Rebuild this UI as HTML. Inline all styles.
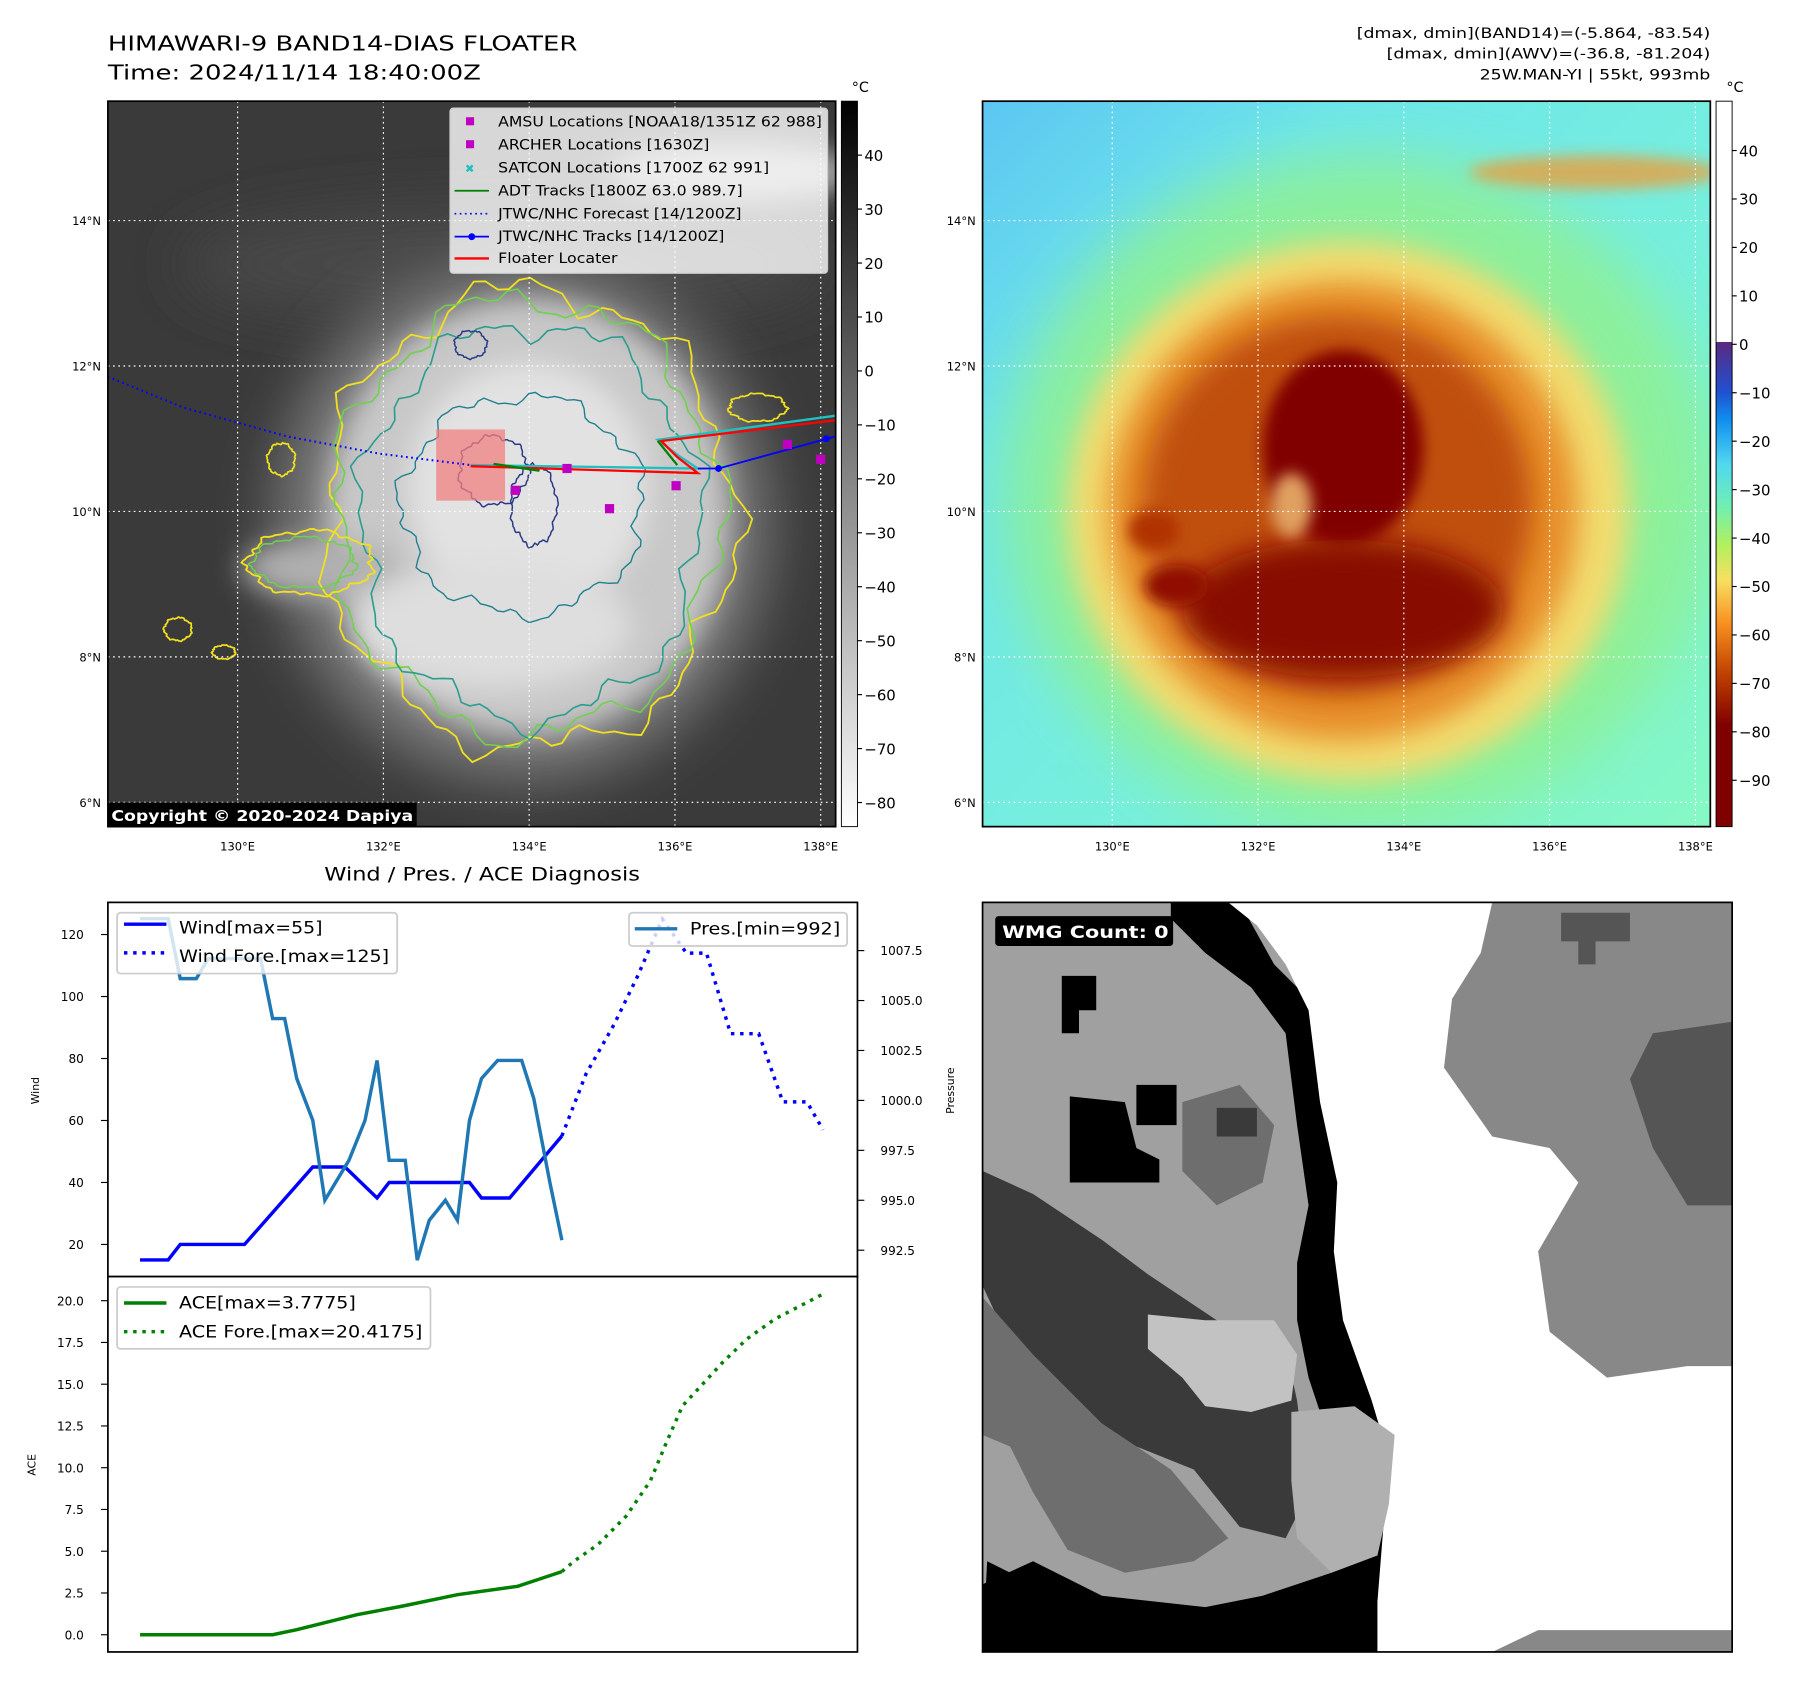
<!DOCTYPE html>
<html><head><meta charset="utf-8">
<style>
html,body{margin:0;padding:0;background:#fff;}
svg{display:block;font-family:"DejaVu Sans","Liberation Sans",sans-serif;}
</style></head>
<body>
<svg id="fig" width="1801" height="1690" viewBox="0 0 1569 1472" xmlns="http://www.w3.org/2000/svg">
<defs>
  <filter id="b6" x="-50%" y="-50%" width="200%" height="200%"><feGaussianBlur stdDeviation="6"/></filter>
  <filter id="b12" x="-50%" y="-50%" width="200%" height="200%"><feGaussianBlur stdDeviation="12"/></filter>
  <filter id="b25" x="-50%" y="-50%" width="200%" height="200%"><feGaussianBlur stdDeviation="25"/></filter>
  <clipPath id="clipL"><rect x="94" y="88" width="634" height="632"/></clipPath>
  <clipPath id="clipR"><rect x="856" y="88" width="634" height="632"/></clipPath>
  <clipPath id="clipW"><rect x="856" y="786" width="653" height="653"/></clipPath>
  <linearGradient id="grayBar" x1="0" y1="0" x2="0" y2="1">
    <stop offset="0" stop-color="#000"/><stop offset="1" stop-color="#fff"/>
  </linearGradient>
  <linearGradient id="jetBar" x1="0" y1="0" x2="0" y2="1">
    <stop offset="0" stop-color="#fff"/>
    <stop offset="0.3317" stop-color="#fff"/>
    <stop offset="0.3318" stop-color="#5a2a80"/>
    <stop offset="0.40" stop-color="#2050d0"/>
    <stop offset="0.44" stop-color="#1090f0"/>
    <stop offset="0.50" stop-color="#50d8f0"/>
    <stop offset="0.56" stop-color="#70f0b0"/>
    <stop offset="0.61" stop-color="#b0f060"/>
    <stop offset="0.66" stop-color="#f8e060"/>
    <stop offset="0.72" stop-color="#f89020"/>
    <stop offset="0.79" stop-color="#c04000"/>
    <stop offset="0.86" stop-color="#800000"/>
    <stop offset="1" stop-color="#800000"/>
  </linearGradient>
  <linearGradient id="rbg" x1="0" y1="0" x2="1" y2="1">
    <stop offset="0" stop-color="#5cc6f2"/><stop offset="0.25" stop-color="#6ee6ea"/><stop offset="0.7" stop-color="#7af2d8"/><stop offset="1" stop-color="#86f8c4"/>
  </linearGradient>
</defs>

<!-- titles -->
<text x="94" y="44" font-size="18" textLength="409" lengthAdjust="spacingAndGlyphs">HIMAWARI-9 BAND14-DIAS FLOATER</text>
<text x="94" y="69" font-size="18" textLength="325" lengthAdjust="spacingAndGlyphs">Time: 2024/11/14 18:40:00Z</text>
<g font-size="12.5" text-anchor="end">
  <text x="1490" y="33" textLength="308" lengthAdjust="spacingAndGlyphs">[dmax, dmin](BAND14)=(-5.864, -83.54)</text>
  <text x="1490" y="51" textLength="282" lengthAdjust="spacingAndGlyphs">[dmax, dmin](AWV)=(-36.8, -81.204)</text>
  <text x="1490" y="69" textLength="201" lengthAdjust="spacingAndGlyphs">25W.MAN-YI | 55kt, 993mb</text>
</g>

<!-- LEFT MAP -->
<g clip-path="url(#clipL)">
  <rect x="94" y="88" width="634" height="632" fill="#3a3a3a"/>
  <ellipse cx="440" cy="230" rx="280" ry="50" fill="#4a4a4a" filter="url(#b25)"/>
  <ellipse cx="640" cy="150" rx="110" ry="25" fill="#aaa" filter="url(#b12)"/>
  <ellipse cx="455" cy="455" rx="215" ry="225" fill="#7a7a7a" filter="url(#b25)"/>
  <ellipse cx="460" cy="450" rx="175" ry="190" fill="#c8c8c8" filter="url(#b12)"/>
  <ellipse cx="280" cy="495" rx="70" ry="25" fill="#b0b0b0" filter="url(#b12)"/>
  <ellipse cx="460" cy="425" rx="105" ry="110" fill="#e2e2e2" filter="url(#b12)"/>
  <ellipse cx="430" cy="545" rx="120" ry="55" fill="#dedede" filter="url(#b12)"/>
  <g id="contours"></g>
  <rect x="380" y="374" width="60" height="62" fill="#f08080" opacity="0.75"/>
</g>
<g id="gridL" stroke="#fff" stroke-width="1" stroke-dasharray="1.5,3"></g>
<g id="tracks" clip-path="url(#clipL)"></g>
<rect x="94" y="88" width="634" height="632" fill="none" stroke="#000" stroke-width="1.5"/>

<!-- legend -->
<g>
  <rect x="392" y="94" width="329" height="144" rx="3" fill="#fff" fill-opacity="0.8" stroke="#ccc"/>
  <g font-size="12">
    <rect x="406" y="102" width="7" height="7" fill="#c000c0"/><text x="434" y="110" textLength="282" lengthAdjust="spacingAndGlyphs">AMSU Locations [NOAA18/1351Z 62 988]</text>
    <rect x="406" y="122" width="7" height="7" fill="#c000c0"/><text x="434" y="130" textLength="184" lengthAdjust="spacingAndGlyphs">ARCHER Locations [1630Z]</text>
    <text x="405" y="150" fill="#20c0c0" font-size="10" font-weight="bold">✖</text><text x="434" y="150" textLength="236" lengthAdjust="spacingAndGlyphs">SATCON Locations [1700Z 62 991]</text>
    <line x1="396" y1="166" x2="426" y2="166" stroke="#008000" stroke-width="1.5"/><text x="434" y="170" textLength="213" lengthAdjust="spacingAndGlyphs">ADT Tracks [1800Z 63.0 989.7]</text>
    <line x1="396" y1="186" x2="426" y2="186" stroke="#0000ff" stroke-width="1.5" stroke-dasharray="1.5,3"/><text x="434" y="190" textLength="212" lengthAdjust="spacingAndGlyphs">JTWC/NHC Forecast [14/1200Z]</text>
    <line x1="396" y1="206" x2="426" y2="206" stroke="#0000ff" stroke-width="1.5"/><circle cx="411" cy="206" r="3" fill="#0000ff"/><text x="434" y="210" textLength="197" lengthAdjust="spacingAndGlyphs">JTWC/NHC Tracks [14/1200Z]</text>
    <line x1="396" y1="225" x2="426" y2="225" stroke="#ff0000" stroke-width="2"/><text x="434" y="229" textLength="104" lengthAdjust="spacingAndGlyphs">Floater Locater</text>
  </g>
</g>
<rect x="94" y="699" width="269" height="21" fill="#000"/>
<text x="97" y="715" font-size="13" font-weight="bold" fill="#fff" textLength="263" lengthAdjust="spacingAndGlyphs">Copyright © 2020-2024 Dapiya</text>

<!-- left colorbar -->
<rect x="733" y="88" width="14" height="632" fill="url(#grayBar)" stroke="#000" stroke-width="0.8"/>
<text x="742" y="80" font-size="12.5">°C</text>
<g id="cbL" font-size="13"></g>

<!-- RIGHT MAP -->
<g clip-path="url(#clipR)">
  <rect x="856" y="88" width="634" height="632" fill="url(#rbg)"/>
  <ellipse cx="1185" cy="430" rx="310" ry="295" fill="#90f090" filter="url(#b25)" opacity="0.85"/>
  <ellipse cx="1390" cy="150" rx="110" ry="15" fill="#e8a040" filter="url(#b6)" opacity="0.8"/>
  <ellipse cx="1175" cy="445" rx="245" ry="235" fill="#f2dc70" filter="url(#b12)"/>
  <ellipse cx="1170" cy="445" rx="205" ry="200" fill="#e8902a" filter="url(#b12)"/>
  <ellipse cx="1165" cy="440" rx="170" ry="165" fill="#c05008" filter="url(#b12)"/>
  <ellipse cx="1170" cy="390" rx="70" ry="85" fill="#800000" filter="url(#b6)"/>
  <ellipse cx="1170" cy="530" rx="140" ry="60" fill="#880800" filter="url(#b12)"/>
  <ellipse cx="1025" cy="510" rx="28" ry="18" fill="#900800" filter="url(#b6)"/>
  <ellipse cx="1005" cy="462" rx="22" ry="18" fill="#b03000" filter="url(#b6)"/>
  <ellipse cx="1125" cy="440" rx="18" ry="28" fill="#e0a060" filter="url(#b6)"/>
</g>
<g id="gridR" stroke="#fff" stroke-width="1" stroke-dasharray="1.5,3"></g>
<rect x="856" y="88" width="634" height="632" fill="none" stroke="#000" stroke-width="1.5"/>
<rect x="1495" y="88" width="14" height="632" fill="url(#jetBar)" stroke="#000" stroke-width="0.8"/>
<text x="1504" y="80" font-size="12.5">°C</text>
<g id="cbR" font-size="13"></g>

<!-- WIND / PRES -->
<text x="420" y="767" font-size="16" text-anchor="middle" textLength="275" lengthAdjust="spacingAndGlyphs">Wind / Pres. / ACE Diagnosis</text>
<g id="windPanel"></g>
<g id="acePanel"></g>

<!-- WMG -->
<g clip-path="url(#clipW)">
  <rect x="856" y="786" width="653" height="653" fill="#a0a0a0"/>
  <polygon fill="#888" points="1260,786 1509,786 1509,1439 1300,1439 1280,1300 1240,1200 1230,1100 1240,1000 1250,900 1260,840"/>
  <polygon fill="#555" points="1440,900 1509,890 1509,1050 1470,1050 1440,1000 1420,940"/>
  <polygon fill="#555" points="1360,795 1420,795 1420,820 1390,820 1390,840 1375,840 1375,820 1360,820"/>
  <polygon fill="#000" points="1020,786 1080,786 1110,840 1150,880 1160,940 1165,1000 1180,1040 1185,1100 1190,1150 1190,1190 1220,1210 1250,1230 1300,1220 1300,1439 856,1439 856,1380 900,1360 960,1390 1050,1400 1100,1390 1160,1370 1170,1330 1160,1260 1140,1200 1130,1150 1130,1100 1140,1050 1130,980 1120,900 1090,860 1050,830 1020,800"/>
  <polygon fill="#fff" points="1070,786 1300,786 1290,830 1265,870 1258,930 1300,990 1350,1000 1375,1030 1340,1090 1350,1160 1400,1200 1470,1190 1509,1190 1509,1420 1340,1420 1300,1439 1200,1439 1200,1395 1210,1270 1195,1220 1170,1150 1162,1090 1165,1030 1150,960 1140,880 1120,840 1095,806"/>
  <polygon fill="#3a3a3a" points="856,1020 900,1040 960,1080 1000,1110 1060,1150 1120,1175 1130,1220 1140,1300 1120,1340 1080,1330 1040,1280 990,1260 940,1240 900,1200 870,1150 856,1120"/>
  <polygon fill="#6e6e6e" points="856,1130 900,1180 960,1240 1020,1280 1070,1340 1040,1360 980,1370 930,1350 900,1300 880,1260 856,1250"/>
  <polygon fill="#c2c2c2" points="1000,1145 1050,1150 1110,1150 1130,1180 1125,1220 1090,1230 1050,1225 1030,1200 1000,1175"/>
  <polygon fill="#b0b0b0" points="1125,1230 1180,1225 1215,1250 1210,1310 1200,1355 1160,1370 1130,1340 1125,1290"/>
  <polygon fill="#6e6e6e" points="1030,960 1080,945 1110,980 1100,1030 1060,1050 1030,1020"/>
  <polygon fill="#3a3a3a" points="1060,965 1095,965 1095,990 1060,990"/>
  <polygon fill="#000" points="932,955 980,960 990,1000 1010,1010 1010,1030 932,1030"/>
  <polygon fill="#000" points="990,945 1025,945 1025,980 990,980"/>
  <polygon fill="#000" points="925,850 955,850 955,880 940,880 940,900 925,900"/>
  <polygon fill="#000" points="860,1360 900,1380 880,1439 856,1439"/>
</g>
<rect x="867" y="798" width="155" height="26" rx="3" fill="#000"/>
<text x="873" y="817" font-size="15" font-weight="bold" fill="#fff" textLength="145" lengthAdjust="spacingAndGlyphs">WMG Count: 0</text>
<rect x="856" y="786" width="653" height="653" fill="none" stroke="#000" stroke-width="1.5"/>

<script>
// ===== Wind/Pressure/ACE chart data =====
const windObsTime = [0, 7, 10, 26, 43, 51, 59, 62, 82, 85, 92, 105];
const windObs = [15, 15, 20, 20, 45, 45, 35, 40, 40, 35, 35, 55];
const windFcstTime = [105, 111, 118, 124, 130, 136, 141, 147, 154, 160, 166, 170];
const windFcst = [55, 75, 91, 107, 125, 114, 114, 88, 88, 66, 66, 57];
const presTime = [0, 7, 10, 14, 17, 30, 33, 36, 39, 43, 46, 52, 56, 59, 62, 66, 69, 72, 76, 79, 82, 85, 89, 95, 98, 102, 105];
const pres = [1009.1, 1009.1, 1006.1, 1006.1, 1007.1, 1007.1, 1004.1, 1004.1, 1001.1, 999.0, 995.0, 997.0, 999.0, 1002.0, 997.0, 997.0, 992.0, 994.0, 995.0, 994.0, 999.0, 1001.1, 1002.0, 1002.0, 1000.1, 995.9, 993.0];
const aceObsTime = [0, 33, 39, 54, 65, 79, 94, 99, 105];
const aceObs = [0, 0, 0.3, 1.2, 1.7, 2.4, 2.9, 3.3, 3.78];
const aceFcstTime = [105, 108, 114, 121, 127, 131, 135, 140, 145, 151, 158, 170];
const aceFcst = [3.78, 4.4, 5.4, 7.1, 9.2, 11.5, 13.7, 15.0, 16.3, 17.7, 18.9, 20.4];
const windTicks = [20, 40, 60, 80, 100, 120];
const presTicks = [992.5, 995.0, 997.5, 1000.0, 1002.5, 1005.0, 1007.5];
const aceTicks = [0, 2.5, 5, 7.5, 10, 12.5, 15, 17.5, 20];

const NS = "http://www.w3.org/2000/svg";
function mk(tag, attrs, parent) {
  const e = document.createElementNS(NS, tag);
  for (const k in attrs) e.setAttribute(k, attrs[k]);
  if (parent) parent.appendChild(e);
  return e;
}
const xT = t => 122 + t * 3.5;
const yW = w => 1084 - (w - 20) * 2.7;
const yP = p => 828 + (1007.5 - p) * 17.4;
const yA = a => 1424 - a * 14.55;
function pts(ts, vs, yf) { return ts.map((t, i) => xT(t).toFixed(1) + "," + yf(vs[i]).toFixed(1)).join(" "); }

// wind panel
const wp = document.getElementById("windPanel");
mk("rect", {x: 94, y: 786, width: 653, height: 326, fill: "#fff", stroke: "#000", "stroke-width": 1.5}, wp);
windTicks.forEach(v => {
  const y = yW(v);
  mk("line", {x1: 88, y1: y, x2: 94, y2: y, stroke: "#000"}, wp);
  const t = mk("text", {x: 73, y: y + 4, "font-size": 10.5, "text-anchor": "end"}, wp);
  t.textContent = v;
});
presTicks.forEach(v => {
  const y = yP(v);
  mk("line", {x1: 747, y1: y, x2: 753, y2: y, stroke: "#000"}, wp);
  const t = mk("text", {x: 767, y: y + 4, "font-size": 10.5}, wp);
  t.textContent = v.toFixed(1);
});
const wl = mk("text", {x: 34, y: 950, "font-size": 9.5, "text-anchor": "middle", transform: "rotate(-90 34 950)"}, wp);


wl.textContent = "Wind";
const pl = mk("text", {x: 831, y: 950, "font-size": 9.5, "text-anchor": "middle", transform: "rotate(-90 831 950)"}, wp);


pl.textContent = "Pressure";
const wObs = mk("polyline", {points: pts(windObsTime, windObs, yW), fill: "none", stroke: "#0000ff", "stroke-width": 3}, wp);


const wF = mk("polyline", {points: pts(windFcstTime, windFcst, yW), fill: "none", stroke: "#0000ff", "stroke-width": 3, "stroke-dasharray": "3,5"}, wp);


const pL = mk("polyline", {points: pts(presTime, pres, yP), fill: "none", stroke: "#1f77b4", "stroke-width": 3}, wp);


// legends
const lg1 = mk("g", {}, wp);


mk("rect", {x: 102, y: 795, width: 244, height: 53, rx: 3, fill: "#fff", "fill-opacity": 0.8, stroke: "#ccc", "stroke-width": 1.5}, lg1);
mk("line", {x1: 108, y1: 805, x2: 145, y2: 805, stroke: "#0000ff", "stroke-width": 3}, lg1);
mk("text", {x: 156, y: 813, "font-size": 14.5, textLength: 125, lengthAdjust: "spacingAndGlyphs"}, lg1).textContent = "Wind[max=55]";
mk("line", {x1: 108, y1: 830, x2: 145, y2: 830, stroke: "#0000ff", "stroke-width": 3, "stroke-dasharray": "3,5"}, lg1);
mk("text", {x: 156, y: 838, "font-size": 14.5, textLength: 183, lengthAdjust: "spacingAndGlyphs"}, lg1).textContent = "Wind Fore.[max=125]";
const lg2 = mk("g", {}, wp);


mk("rect", {x: 548, y: 795, width: 190, height: 29, rx: 3, fill: "#fff", "fill-opacity": 0.8, stroke: "#ccc", "stroke-width": 1.5}, lg2);
mk("line", {x1: 553, y1: 809, x2: 590, y2: 809, stroke: "#1f77b4", "stroke-width": 3}, lg2);
mk("text", {x: 601, y: 814, "font-size": 14.5, textLength: 131, lengthAdjust: "spacingAndGlyphs"}, lg2).textContent = "Pres.[min=992]";

// ACE panel
const ap = document.getElementById("acePanel");
mk("rect", {x: 94, y: 1112, width: 653, height: 327, fill: "#fff", stroke: "#000", "stroke-width": 1.5}, ap);
aceTicks.forEach(v => {
  const y = yA(v);
  mk("line", {x1: 88, y1: y, x2: 94, y2: y, stroke: "#000"}, ap);
  const t = mk("text", {x: 73, y: y + 4, "font-size": 10.5, "text-anchor": "end"}, ap);
  t.textContent = v.toFixed(1);
});
const al = mk("text", {x: 31, y: 1276, "font-size": 9.5, "text-anchor": "middle", transform: "rotate(-90 31 1276)"}, ap);


al.textContent = "ACE";
const aO = mk("polyline", {points: pts(aceObsTime, aceObs, yA), fill: "none", stroke: "#008000", "stroke-width": 3}, ap);


const aF = mk("polyline", {points: pts(aceFcstTime, aceFcst, yA), fill: "none", stroke: "#008000", "stroke-width": 3, "stroke-dasharray": "3,5"}, ap);


const lg3 = mk("g", {}, ap);


mk("rect", {x: 102, y: 1121, width: 273, height: 54, rx: 3, fill: "#fff", "fill-opacity": 0.8, stroke: "#ccc", "stroke-width": 1.5}, lg3);
mk("line", {x1: 108, y1: 1135, x2: 145, y2: 1135, stroke: "#008000", "stroke-width": 3}, lg3);
mk("text", {x: 156, y: 1140, "font-size": 14.5, textLength: 154, lengthAdjust: "spacingAndGlyphs"}, lg3).textContent = "ACE[max=3.7775]";
mk("line", {x1: 108, y1: 1160, x2: 145, y2: 1160, stroke: "#008000", "stroke-width": 3, "stroke-dasharray": "3,5"}, lg3);
mk("text", {x: 156, y: 1165, "font-size": 14.5, textLength: 212, lengthAdjust: "spacingAndGlyphs"}, lg3).textContent = "ACE Fore.[max=20.4175]";

// ===== map grids =====
const lonLabels = ["130°E", "132°E", "134°E", "136°E", "138°E"];
const latLabels = ["14°N", "12°N", "10°N", "8°N", "6°N"];
function grid(gid, x0) {
  const g = document.getElementById(gid);
  lonLabels.forEach((l, i) => {
    const x = x0 + 113 + i * 127;
    mk("line", {x1: x, y1: 88, x2: x, y2: 720}, g);
    const t = mk("text", {x: x, y: 741, "font-size": 10, "text-anchor": "middle", stroke: "none", fill: "#000"}, g);
    t.textContent = l;
  });
  latLabels.forEach((l, i) => {
    const y = 192 + i * 126.7;
    mk("line", {x1: x0, y1: y, x2: x0 + 634, y2: y}, g);
    const t = mk("text", {x: x0 - 6, y: y + 4, "font-size": 10, "text-anchor": "end", stroke: "none", fill: "#000"}, g);
    t.textContent = l;
  });
}
grid("gridL", 94);
grid("gridR", 856);

// colorbars
const cbLTicks = [40, 30, 20, 10, 0, -10, -20, -30, -40, -50, -60, -70, -80];
const cbRTicks = [40, 30, 20, 10, 0, -10, -20, -30, -40, -50, -60, -70, -80, -90];
function cbar(gid, x, ticks, yf) {
  const g = document.getElementById(gid);
  ticks.forEach(v => {
    const y = yf(v);
    mk("line", {x1: x, y1: y, x2: x + 4, y2: y, stroke: "#000"}, g);
    const t = mk("text", {x: x + 6, y: y + 5}, g);
    t.textContent = String(v).replace("-", "\u2212");
  });
}
cbar("cbL", 747, cbLTicks, v => 135 + (40 - v) * 4.7);
cbar("cbR", 1509, cbRTicks, v => 131 + (40 - v) * 4.22);

// ===== contours on IR map (decorative imagery) =====
const cg = document.getElementById("contours");
function blob(cx, cy, rx, ry, col, w, seed) {
  let d = "";
  for (let i = 0; i <= 120; i++) {
    const a = i / 120 * Math.PI * 2;
    const r = 1 + 0.05 * Math.sin(7 * a + seed) + 0.03 * Math.sin(17 * a + seed * 2) + 0.02 * Math.sin(31 * a + seed);
    d += (i ? "L" : "M") + (cx + rx * r * Math.cos(a)).toFixed(1) + "," + (cy + ry * r * Math.sin(a)).toFixed(1);
  }
  mk("path", {d: d + "Z", fill: "none", stroke: col, "stroke-width": w}, cg);
}
blob(462, 452, 178, 200, "#f0e020", 1.6, 1);
blob(460, 450, 168, 190, "#70d050", 1.4, 2);
blob(462, 455, 148, 172, "#2a9d8f", 1.4, 3);
blob(455, 440, 105, 95, "#1f7f8f", 1.2, 4);
blob(270, 490, 55, 28, "#f0e020", 1.6, 5);
blob(265, 490, 45, 22, "#70d050", 1.3, 6);
blob(430, 410, 30, 30, "#2c3a85", 1.3, 7);
blob(465, 440, 20, 35, "#2c3a85", 1.3, 8);
blob(410, 300, 14, 12, "#2c3a85", 1.3, 9);
blob(245, 400, 12, 14, "#f0e020", 1.5, 10);
blob(155, 548, 12, 10, "#f0e020", 1.5, 11);
blob(195, 568, 10, 6, "#f0e020", 1.5, 12);
blob(660, 355, 25, 12, "#f0e020", 1.5, 13);

// tracks (decorative)
const tg = document.getElementById("tracks");
mk("polyline", {points: "94,328 160,355 250,380 330,395 410,405 440,406", fill: "none", stroke: "#0000ff", "stroke-width": 1.8, "stroke-dasharray": "1.5,3"}, tg);
mk("polyline", {points: "410,405 608,408 590,396 573,383 728,362", fill: "none", stroke: "#20c0c0", "stroke-width": 2}, tg);
mk("polyline", {points: "410,406 608,412 590,398 576,384 728,366", fill: "none", stroke: "#ff0000", "stroke-width": 2}, tg);
mk("polyline", {points: "430,404 470,410", fill: "none", stroke: "#008000", "stroke-width": 2}, tg);
mk("polyline", {points: "573,384 590,405", fill: "none", stroke: "#008000", "stroke-width": 2}, tg);
mk("polyline", {points: "608,408 626,408 728,380", fill: "none", stroke: "#0000ff", "stroke-width": 1.5}, tg);
mk("circle", {cx: 626, cy: 408, r: 3, fill: "#0000ff"}, tg);
mk("circle", {cx: 720, cy: 382, r: 3, fill: "#0000ff"}, tg);
[[494, 408], [449, 427], [531, 443], [589, 423], [715, 400], [686, 387]].forEach(p => {
  mk("rect", {x: p[0] - 4, y: p[1] - 4, width: 8, height: 8, fill: "#c000c0"}, tg);
});
</script>
</svg>
</body></html>
